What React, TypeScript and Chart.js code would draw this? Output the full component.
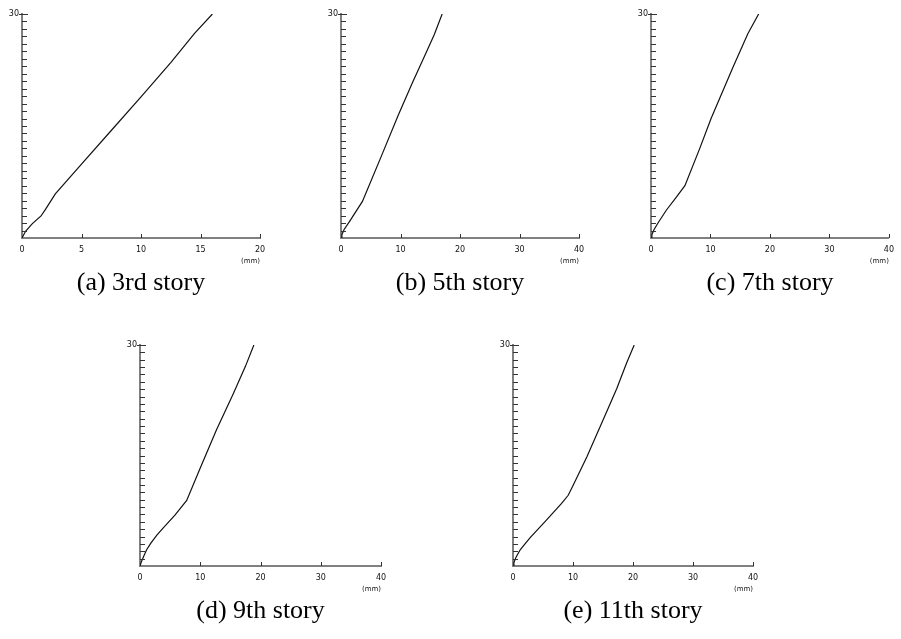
import React, { useEffect, useRef } from 'react';
import { Chart, registerables } from 'chart.js';

Chart.register(...registerables);

// ---- data (story drift in mm vs. height / step) ----
const STORY3_DRIFT = [0, 0.3, 0.85, 1.6, 2.0, 2.8, 5.0, 7.5, 10.0, 12.5, 14.5, 16.0];
const STORY3_LEVEL = [0, 0.9, 1.9, 2.95, 3.9, 5.9, 9.9, 14.4, 18.9, 23.5, 27.4, 30];

const STORY5_DRIFT = [0, 0.15, 0.5, 1.5, 3.6, 6.8, 9.6, 12.0, 14.3, 15.7, 17.0];
const STORY5_LEVEL = [0, 0.45, 1.1, 2.3, 4.9, 11.0, 16.4, 20.8, 24.8, 27.3, 30];

const STORY7_DRIFT = [0, 0.15, 0.5, 1.2, 2.6, 4.2, 5.7, 8.2, 10.1, 13.8, 16.3, 18.1];
const STORY7_LEVEL = [0, 0.45, 1.1, 2.05, 3.75, 5.4, 7.0, 12.0, 16.0, 22.9, 27.4, 30];

const STORY9_DRIFT = [0, 0.2, 0.6, 1.1, 1.8, 2.8, 3.9, 5.8, 7.75, 10.0, 12.7, 15.5, 17.5, 18.9];
const STORY9_LEVEL = [0, 0.5, 1.3, 2.2, 3.1, 4.2, 5.2, 6.9, 8.9, 13.3, 18.5, 23.4, 27.1, 30];

const STORY11_DRIFT = [0, 0.15, 0.5, 1.2, 2.0, 2.9, 5.3, 8.1, 9.2, 10.05, 12.3, 15.1, 17.3, 18.9, 20.2];
const STORY11_LEVEL = [0, 0.45, 1.2, 2.2, 3.0, 3.9, 6.0, 8.5, 9.6, 11.0, 14.8, 20.0, 24.1, 27.5, 30];

const CAPTIONS = ['(a) 3rd story', '(b) 5th story', '(c) 7th story', '(d) 9th story', '(e) 11th story'];
const X_MAX = [20, 40, 40, 40, 40];
const X_STEP = [5, 10, 10, 10, 10];
const X_UNIT = '(mm)';
const Y_MAX = 30;
const Y_MINOR_STEP = 1;

const DRIFTS = [STORY3_DRIFT, STORY5_DRIFT, STORY7_DRIFT, STORY9_DRIFT, STORY11_DRIFT];
const LEVELS = [STORY3_LEVEL, STORY5_LEVEL, STORY7_LEVEL, STORY9_LEVEL, STORY11_LEVEL];

// ---- layout ----
const Y_W = 22;
const PAD_T = 10;
const X_H = 30;
const PANELS = [
  { l: 22, t: 14, w: 238, h: 224, r: 20 },
  { l: 341, t: 14, w: 238, h: 224, r: 20 },
  { l: 651, t: 14, w: 238, h: 224, r: 12 },
  { l: 140, t: 345, w: 241, h: 221, r: 20 },
  { l: 513, t: 345, w: 240, h: 221, r: 20 },
];

const AXIS_COLOR = '#808080';
const TICK_COLOR = '#333';
const TEXT_COLOR = '#111';
const SMALL_FONT = { family: 'DejaVu Sans', size: 8 };

const tickPlugin = {
  id: 'innerTicks',
  afterDraw(chart: any) {
    const { ctx, chartArea, scales } = chart;
    const ys = scales.y;
    const xs = scales.x;
    ctx.save();
    ctx.strokeStyle = TICK_COLOR;
    ctx.lineWidth = 1;
    for (let v = Y_MINOR_STEP; v <= Y_MAX; v += Y_MINOR_STEP) {
      const py = Math.round(ys.getPixelForValue(v)) + 0.5;
      ctx.beginPath();
      ctx.moveTo(chartArea.left - (v === Y_MAX ? 3 : 0), py);
      ctx.lineTo(chartArea.left + (v === Y_MAX ? 6 : 5), py);
      ctx.stroke();
    }
    xs.ticks.forEach((t: any) => {
      if (t.value === xs.min) return;
      const px = Math.round(xs.getPixelForValue(t.value)) + 0.5;
      ctx.beginPath();
      ctx.moveTo(px, chartArea.bottom);
      ctx.lineTo(px, chartArea.bottom - 4);
      ctx.stroke();
    });
    ctx.restore();
  },
};

function Panel({ idx }: { idx: number }) {
  const ref = useRef<HTMLCanvasElement | null>(null);
  const p = PANELS[idx];
  const cw = Y_W + p.w + p.r;
  const ch = PAD_T + p.h + X_H;

  useEffect(() => {
    if (!ref.current) return;
    const pts = DRIFTS[idx].map((x, i) => ({ x, y: LEVELS[idx][i] }));
    const chart = new Chart(ref.current, {
      type: 'line',
      data: {
        datasets: [
          {
            data: pts,
            borderColor: '#111',
            borderWidth: 1.2,
            pointRadius: 0,
            fill: false,
            tension: 0,
          },
        ],
      },
      options: {
        responsive: false,
        animation: false,
        devicePixelRatio: 1,
        layout: { padding: { top: PAD_T, right: p.r, left: 0, bottom: 0 } },
        plugins: { legend: { display: false }, tooltip: { enabled: false } },
        scales: {
          x: {
            type: 'linear',
            position: 'bottom',
            min: 0,
            max: X_MAX[idx],
            grid: { display: false, drawTicks: false },
            border: { display: true, color: AXIS_COLOR, width: 2 },
            ticks: {
              stepSize: X_STEP[idx],
              padding: 7,
              color: TEXT_COLOR,
              font: SMALL_FONT,
              maxRotation: 0,
              autoSkip: false,
            },
            title: {
              display: true,
              text: X_UNIT,
              align: 'end',
              color: TEXT_COLOR,
              font: { family: 'DejaVu Sans', size: 7 },
              padding: { top: 0, bottom: 3 },
            },
            afterFit: (s: any) => {
              s.height = X_H;
            },
          },
          y: {
            type: 'linear',
            min: 0,
            max: Y_MAX,
            grid: { display: false, drawTicks: false },
            border: { display: true, color: AXIS_COLOR, width: 2 },
            ticks: {
              stepSize: Y_MAX,
              padding: 3,
              color: TEXT_COLOR,
              font: SMALL_FONT,
              callback: (v: any) => (v === Y_MAX ? String(v) : ''),
            },
            afterFit: (s: any) => {
              s.width = Y_W;
            },
          },
        },
      } as any,
      plugins: [tickPlugin],
    });
    return () => chart.destroy();
  }, [idx]);

  return (
    <>
      <canvas
        ref={ref}
        width={cw}
        height={ch}
        style={{ position: 'absolute', left: p.l - Y_W, top: p.t - PAD_T, width: cw, height: ch, display: 'block' }}
      />
      <div
        style={{
          position: 'absolute',
          left: p.l + p.w / 2 - 120,
          width: 240,
          top: p.t + p.h + 31,
          textAlign: 'center',
          fontFamily: '"Liberation Serif", "Times New Roman", serif',
          fontSize: 26,
          lineHeight: '26px',
          color: '#000',
          whiteSpace: 'nowrap',
        }}
      >
        {CAPTIONS[idx]}
      </div>
    </>
  );
}

export default function App() {
  return (
    <div style={{ position: 'absolute', left: 0, top: 0, width: 901, height: 639, overflow: 'hidden', background: '#fff' }}>
      {CAPTIONS.map((_, i) => (
        <Panel key={i} idx={i} />
      ))}
    </div>
  );
}
